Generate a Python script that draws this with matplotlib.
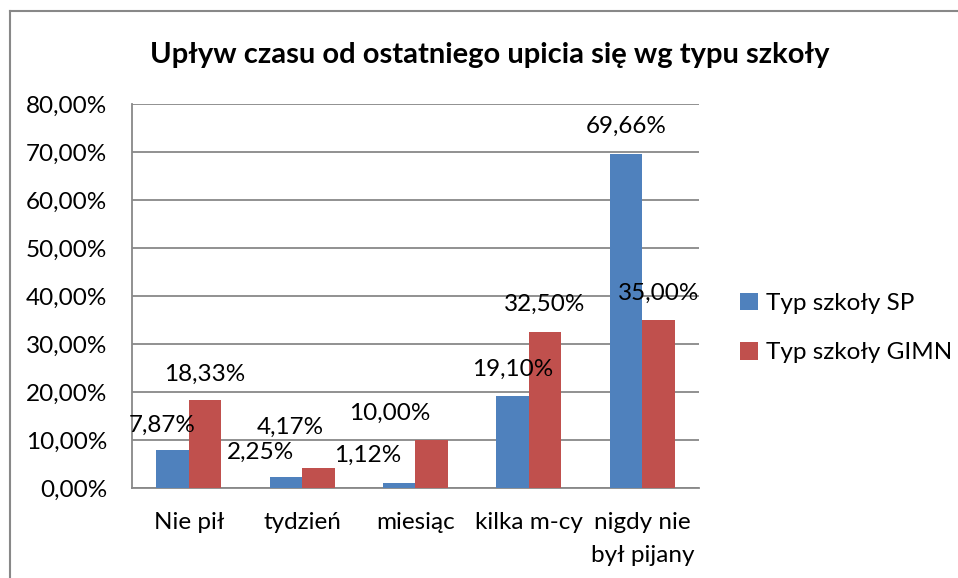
import matplotlib
matplotlib.use("Agg")
import matplotlib.pyplot as plt
import numpy as np
from matplotlib.lines import Line2D
from matplotlib.ticker import FuncFormatter

plt.rcParams["font.family"] = ["Lato", "DejaVu Sans"]

# data
categories = ["Nie pił", "tydzień", "miesiąc", "kilka m-cy", "nigdy nie\nbył pijany"]
sp_values = [7.87, 2.25, 1.12, 19.10, 69.66]
gimn_values = [18.33, 4.17, 10.00, 32.50, 35.00]
series_names = ["Typ szkoły SP", "Typ szkoły GIMN"]
title = "Upływ czasu od ostatniego upicia się wg typu szkoły"

# label nudges (pixels) to mimic the hand-placed labels of the original
sp_nudge = [(-10, 25), (-25, 25), (-32, 27), (0, 27), (0, 27)]
gimn_nudge = [(0, 26), (-28, 41), (-42, 27), (0, 28), (0, 27)]

BLUE = "#4F81BD"
RED = "#C0504D"
GRID = "#888888"
FS = 17.5


def pct(v):
    return f"{v:.2f}%".replace(".", ",")


fig = plt.figure(figsize=(9.58, 5.78), dpi=100)
ax = fig.add_axes([0.1378, 0.1557, 0.7296 - 0.1378, 0.8201 - 0.1557])

x = np.arange(len(categories))
w = 0.286
b1 = ax.bar(x - w / 2, sp_values, w, color=BLUE, label=series_names[0], zorder=3)
b2 = ax.bar(x + w / 2, gimn_values, w, color=RED, label=series_names[1], zorder=3)

for bars, vals, nudges in [(b1, sp_values, sp_nudge), (b2, gimn_values, gimn_nudge)]:
    for bar, v, (dx, dy) in zip(bars, vals, nudges):
        ax.annotate(pct(v), (bar.get_x() + bar.get_width() / 2, v),
                    xytext=(dx, dy), textcoords="offset pixels",
                    ha="center", va="center", fontsize=FS, zorder=4)

ax.set_xlim(-0.5, len(categories) - 0.5)
ax.set_ylim(0, 80)
ax.set_yticks(np.arange(0, 81, 10))
ax.yaxis.set_major_formatter(FuncFormatter(lambda v, _: pct(v)))
ax.set_xticks(x)
ax.set_xticklabels(categories, linespacing=1.75)
ax.tick_params(axis="y", length=0, pad=18, labelsize=FS)
ax.tick_params(axis="x", length=0, pad=17, labelsize=FS)
ax.yaxis.grid(True, color=GRID, linewidth=1.3, zorder=0)
ax.set_axisbelow(True)
for side in ["top", "right"]:
    ax.spines[side].set_visible(False)
for side in ["left", "bottom"]:
    ax.spines[side].set_color(GRID)
    ax.spines[side].set_linewidth(1.3)

fig.text(0.511, 1 - 55 / 578, title, ha="center", va="center",
         fontsize=21, fontweight="bold")

fig.legend(loc="center left", bbox_to_anchor=(0.762, 1 - 328 / 578),
           frameon=False, fontsize=FS, handlelength=0.75, handleheight=0.75,
           handletextpad=0.35, labelspacing=1.15, borderaxespad=0)

# outer chart frame (only left and top visible in the crop)
fig.add_artist(Line2D([10 / 958, 10 / 958], [0, 1 - 11 / 578], color=GRID, lw=1.5))
fig.add_artist(Line2D([10 / 958, 1], [1 - 11 / 578, 1 - 11 / 578], color=GRID, lw=1.5))

fig.savefig("out.png", dpi=100)
